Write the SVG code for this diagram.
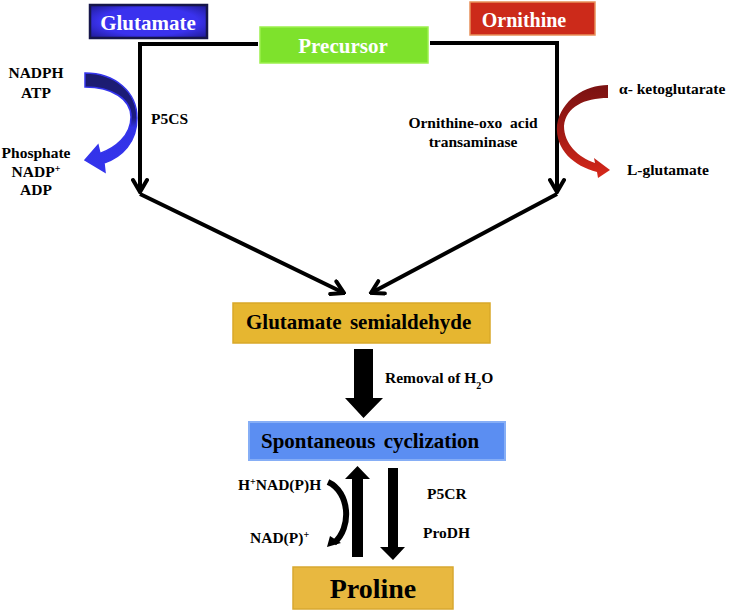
<svg xmlns="http://www.w3.org/2000/svg" width="731" height="612" viewBox="0 0 731 612">
<defs>
<style>
text{font-family:"Liberation Serif","Times New Roman",serif;font-weight:bold;fill:#000}
.lbl{font-size:15.5px}
.box{font-size:21px}
.wt{fill:#fff}
.conn{stroke:#000;stroke-width:4;fill:none;stroke-linejoin:miter}
</style>
<marker id="chev" viewBox="0 0 18 18" refX="16" refY="9" markerWidth="18" markerHeight="18" markerUnits="userSpaceOnUse" orient="auto">
<path d="M4,2 L16,9 L4,16" fill="none" stroke="#000" stroke-width="4" stroke-linecap="round" stroke-linejoin="miter"/>
</marker>
<linearGradient id="blueG" x1="0" y1="0" x2="0" y2="1">
<stop offset="0" stop-color="#1c1c6e"/>
<stop offset="0.45" stop-color="#1c1c80"/>
<stop offset="0.55" stop-color="#3232e6"/>
<stop offset="1" stop-color="#3434ec"/>
</linearGradient>
<linearGradient id="redG" x1="0" y1="0" x2="0" y2="1">
<stop offset="0" stop-color="#7a1212"/>
<stop offset="0.5" stop-color="#a01a14"/>
<stop offset="1" stop-color="#d8281a"/>
</linearGradient>
<radialGradient id="glu" cx="0.5" cy="0.5" r="0.7">
<stop offset="0.6" stop-color="#3a32ee"/>
<stop offset="1" stop-color="#1e1a90"/>
</radialGradient>
</defs>
<rect width="731" height="612" fill="#fff"/>

<g id="connectors">
<path class="conn" d="M258,44 L140,44 L140,192" marker-end="url(#chev)"/>
<path class="conn" d="M140,194 L344,293" marker-end="url(#chev)"/>
<path class="conn" d="M430,43 L557,43 L557,192" marker-end="url(#chev)"/>
<path class="conn" d="M557,194 L371,293" marker-end="url(#chev)"/>
<polygon points="354,349 373,349 373,398 383,398 363.5,418 345,398 354,398" fill="#000"/>
<polygon points="352,557 352,479 345,479 357.5,466 370,479 363,479 363,557" fill="#000"/>
<polygon points="388,468 398,468 398,547 405,547 393,560 380,547 388,547" fill="#000"/>
<path d="M328,482 C350,492 352,528 334,543" fill="none" stroke="#000" stroke-width="6"/>
<polygon points="327,547 330,536 341,543" fill="#000"/>
</g>

<g id="blue-arrow">
<path d="M85,73 C115,73 137,92 137,118 C137,142 122,157 104,163 L105,172 L85,160 L98,145 L100,153.5 C115,148 131,136 131,117 C131,99 112,87 85,87 Z" fill="url(#blueG)" stroke="#3434ec" stroke-width="1.5" stroke-linejoin="miter"/>
</g>

<g id="red-arrow">
<path d="M608,85 C585,85 561,100 557,125 C555,150 574,166 597,172 L598,178 L610,170 L594,158 L595,163 C578,157 564,144 564,126 C566,107 584,98 608,98 Z" fill="url(#redG)"/>
</g>

<g id="glutamate">
<rect x="90" y="5" width="117" height="33" fill="url(#glu)" stroke="#16164a" stroke-width="2.5"/>
<text class="box wt" x="148" y="30" text-anchor="middle">Glutamate</text>
</g>

<g id="precursor">
<rect x="260" y="27" width="168" height="36" fill="#7ee22c" stroke="#9cf04c" stroke-width="1.5"/>
<text class="box wt" x="343" y="53" text-anchor="middle">Precursor</text>
</g>

<g id="ornithine">
<rect x="470" y="2" width="125" height="33" fill="#cc2a1a" stroke="#e8905a" stroke-width="1.5"/>
<text class="wt" x="524" y="27" text-anchor="middle" style="font-size:20px">Ornithine</text>
</g>

<g id="glutamate-semialdehyde">
<rect x="233" y="303" width="257" height="40" fill="#e6b630" stroke="#d9a828" stroke-width="1.5"/>
<text class="box" x="246" y="329" word-spacing="3">Glutamate semialdehyde</text>
</g>

<g id="spontaneous-cyclization">
<rect x="249" y="422" width="256" height="38" fill="#5b8ef2" stroke="#86aef6" stroke-width="2"/>
<text class="box" x="261" y="448" word-spacing="3">Spontaneous cyclization</text>
</g>

<g id="proline">
<rect x="293" y="567" width="160" height="42" fill="#e8b840" stroke="#d8a830" stroke-width="1.5"/>
<text x="373" y="598" text-anchor="middle" style="font-size:28px">Proline</text>
</g>

<g id="labels">
<text class="lbl" x="36" y="78" text-anchor="middle">NADPH</text>
<text class="lbl" x="36" y="98" text-anchor="middle">ATP</text>
<text class="lbl" x="36" y="158" text-anchor="middle">Phosphate</text>
<text class="lbl" x="36" y="177" text-anchor="middle">NADP<tspan font-size="10" baseline-shift="super">+</tspan></text>
<text class="lbl" x="36" y="195" text-anchor="middle">ADP</text>
<text class="lbl" x="151" y="124">P5CS</text>
<text class="lbl" x="473" y="128" text-anchor="middle" xml:space="preserve">Ornithine-oxo  acid</text>
<text class="lbl" x="473" y="147" text-anchor="middle">transaminase</text>
<text class="lbl" x="619" y="94">α- ketoglutarate</text>
<text class="lbl" x="627" y="175">L-glutamate</text>
<text class="lbl" x="385" y="383">Removal of H<tspan font-size="10" baseline-shift="sub">2</tspan>O</text>
<text class="lbl" x="238" y="490">H<tspan font-size="10" baseline-shift="super">+</tspan>NAD(P)H</text>
<text class="lbl" x="250" y="543">NAD(P)<tspan font-size="10" baseline-shift="super">+</tspan></text>
<text class="lbl" x="427" y="499">P5CR</text>
<text class="lbl" x="423" y="538">ProDH</text>
</g>
</svg>
